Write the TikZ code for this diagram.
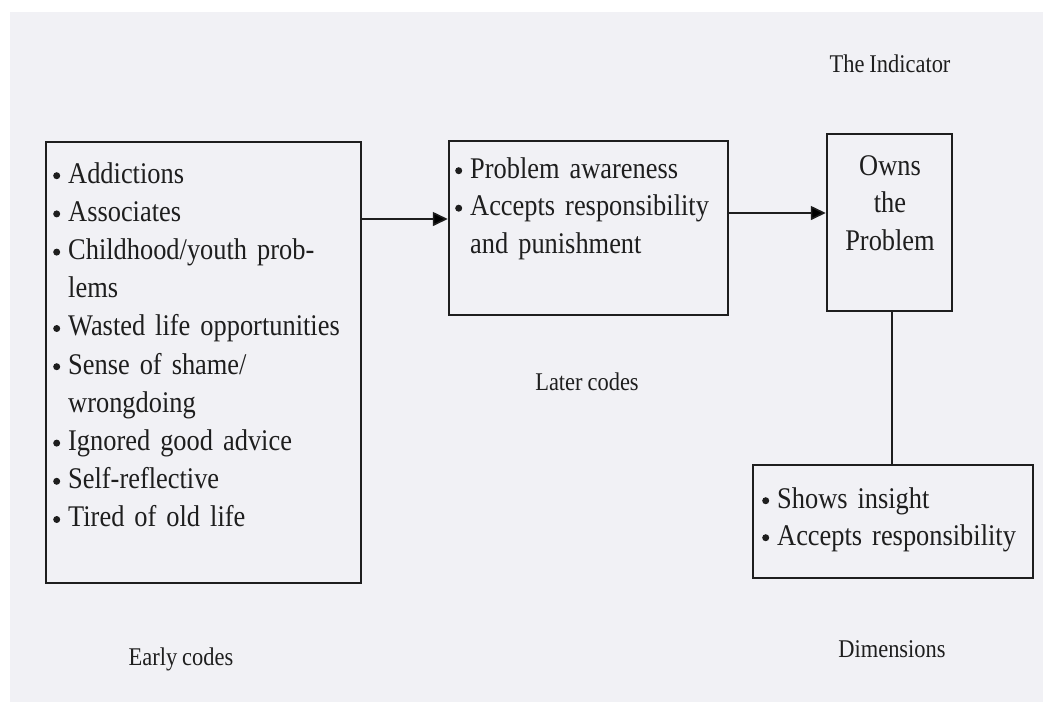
\documentclass[tikz,border=0pt]{standalone}
\usepackage{fontspec}
\setmainfont{Liberation Serif}[FakeStretch=0.88]
\usetikzlibrary{arrows.meta}
\definecolor{paper}{RGB}{241,241,245}
\definecolor{ink}{RGB}{30,30,30}
% bullet mark and hanging indent for continued lines
\newcommand\bul{\makebox[15pt][l]{\tikz[x=1pt,y=1pt,baseline=0pt]\fill[ink] (3.6,7.3) circle (3.5);}}
\newcommand\cont{\hspace*{15pt}}
% text faces with a tighter word space
\newcommand\listfont[1]{\fontsize{30pt}{#1}\selectfont\spaceskip=5.5pt plus 1pt\relax}
\newcommand\capfont{\fontsize{25.5pt}{30pt}\selectfont\spaceskip=5pt plus 1pt\relax}
\begin{document}
\begin{tikzpicture}[x=1pt,y=-1pt,
  box/.style={draw=ink,line width=2.5pt,inner sep=0pt},
  listtext/.style={inner sep=0pt,anchor=base west,align=left,text width=#1,text=ink,
    font=\listfont{38.2pt}},
  caption/.style={inner sep=0pt,anchor=base,text=ink,font=\capfont},
  conn/.style={draw=ink,line width=1.6pt},
  arrow/.style={conn,-{Triangle[length=15pt,width=14pt]}}]
\useasboundingbox (0,0) rectangle (1043,702);
\fill[white] (0,0) rectangle (1043,702);
\fill[paper] (10,12) rectangle (1043,702);

% boxes
\node[box,minimum width=315pt,minimum height=441pt] (early) at (203.5,362.5) {};
\node[box,minimum width=279pt,minimum height=174pt] (later) at (588.5,228) {};
\node[box,minimum width=125pt,minimum height=177pt] (owns) at (889.5,222.5) {};
\node[box,minimum width=280pt,minimum height=113pt] (dims) at (893,521.5) {};

% box contents
\node[listtext=305pt] (earlylist) at (53,183) {\bul Addictions\\ \bul Associates\\ \bul Childhood/youth prob-\\ \cont lems\\ \bul Wasted life opportunities\\ \bul Sense of shame/\\ \cont wrongdoing\\ \bul Ignored good advice\\ \bul Self-reflective\\ \bul Tired of old life};
\node[listtext=270pt,font=\listfont{37.5pt}] (laterlist) at (455,178) {\bul Problem awareness\\ \bul Accepts responsibility\\ \cont and punishment};
\node[inner sep=0pt,anchor=base,align=center,text width=120pt,text=ink,
  font=\listfont{37.5pt}] (ownstext) at (890,175) {Owns\\ the\\ Problem};
\node[listtext=270pt,font=\listfont{37pt}] (dimslist) at (762,508) {\bul Shows insight\\ \bul Accepts responsibility};

% captions
\node[caption] (indicator) at (890,72) {The Indicator};
\node[caption] (latercap) at (587,390) {Later codes};
\node[caption] (earlycap) at (181,665) {Early codes};
\node[caption] (dimscap) at (892,657) {Dimensions};

% connectors
\draw[arrow] (early.east |- 0,219) -- (later.west |- 0,219);
\draw[arrow] (later.east |- 0,213) -- (owns.west |- 0,213);
\draw[conn] (owns.south -| 892,0) -- (dims.north -| 892,0);
\end{tikzpicture}
\end{document}
